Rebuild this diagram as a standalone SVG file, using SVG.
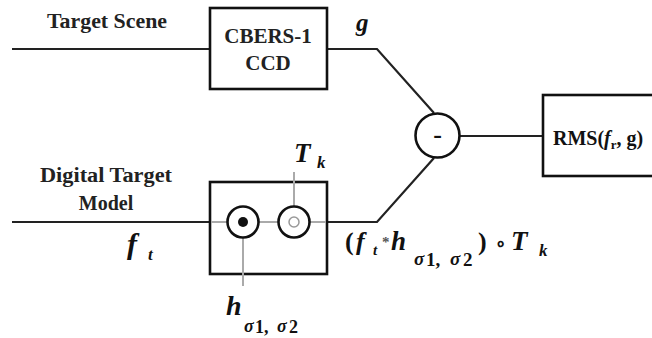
<svg xmlns="http://www.w3.org/2000/svg" width="652" height="338" viewBox="0 0 652 338">
<style>
.ln{fill:none;stroke:#222;stroke-width:2.2}
.gl{fill:none;stroke:#aaa;stroke-width:2}
.box{fill:#fff;stroke:#111;stroke-width:2.6}
</style>
<rect width="652" height="338" fill="#fff"/>
<g id="connectors">
<path class="ln" d="M12,49 H210 M327,49 H377 L434,113"/>
<path class="ln" d="M12,222 H210 M327,222 H377 L434,158"/>
<path class="ln" d="M460,136 H543"/>
</g>
<g id="target-scene">
<text font-family="Liberation Serif" font-weight="bold" fill="#222" x="47" y="28" font-size="20" textLength="120" lengthAdjust="spacingAndGlyphs">Target Scene</text>
</g>
<g id="ccd">
<rect class="box" x="210" y="8" width="117" height="81"/>
<text font-family="Liberation Serif" font-weight="bold" fill="#222" x="268" y="43" font-size="21" text-anchor="middle">CBERS-1</text>
<text font-family="Liberation Serif" font-weight="bold" fill="#222" x="268" y="70" font-size="21" text-anchor="middle">CCD</text>
</g>
<g id="g-label">
<text font-family="Liberation Serif" font-weight="bold" font-style="italic" fill="#111" x="356" y="31" font-size="25">g</text>
</g>
<g id="subtract">
<circle cx="437.5" cy="135.5" r="22" fill="#fff" stroke="#111" stroke-width="2.6"/>
<text font-family="Liberation Serif" font-weight="bold" fill="#111" x="437.5" y="143" font-size="26" text-anchor="middle">-</text>
</g>
<g id="rms">
<rect class="box" x="543" y="95" width="115" height="81"/>
<text font-family="Liberation Serif" font-weight="bold" fill="#111" x="553" y="145" font-size="20">RMS(<tspan font-style="italic">f</tspan><tspan font-size="13" dy="4">r</tspan><tspan dy="-4">, g)</tspan></text>
</g>
<g id="digital-target-model">
<text font-family="Liberation Serif" font-weight="bold" fill="#222" x="40" y="182" font-size="20" textLength="132" lengthAdjust="spacingAndGlyphs">Digital Target</text>
<text font-family="Liberation Serif" font-weight="bold" fill="#222" x="106" y="210" font-size="20" text-anchor="middle">Model</text>
<text font-family="Liberation Serif" font-weight="bold" font-style="italic" fill="#111" x="127" y="254" font-size="30">f<tspan font-size="17" x="148" y="260">t</tspan></text>
</g>
<g id="model-box">
<rect class="box" x="210" y="182" width="117" height="92"/>
<path class="gl" d="M211,222 H326 M294,172 V207 M243,238 V286"/>
<circle cx="243" cy="222" r="15.5" fill="#fff" stroke="#111" stroke-width="2.6"/>
<circle cx="243" cy="222" r="5" fill="#111"/>
<circle cx="294" cy="222" r="15.5" fill="#fff" stroke="#111" stroke-width="2.6"/>
<circle cx="294" cy="222" r="5" fill="#fff" stroke="#999" stroke-width="1.5"/>
</g>
<g id="tk-label">
<text font-family="Liberation Serif" font-weight="bold" font-style="italic" fill="#111" x="294" y="162" font-size="27">T<tspan font-size="17" x="317" y="168">k</tspan></text>
</g>
<g id="h-label">
<text font-family="Liberation Serif" font-weight="bold" font-style="italic" fill="#111" x="226" y="315" font-size="28">h<tspan font-size="18" x="244" y="332">σ</tspan><tspan font-size="18" font-style="normal" x="255" y="333">1,</tspan><tspan font-size="18" x="277" y="332">σ</tspan><tspan font-size="18" font-style="normal" x="289" y="333">2</tspan></text>
</g>
<g id="expr-label">
<text font-family="Liberation Serif" font-weight="bold" font-style="italic" fill="#111" font-size="26" y="250"><tspan font-style="normal" x="345">(</tspan><tspan x="356">f</tspan><tspan font-size="15" x="373" y="255">t</tspan><tspan font-style="normal" font-size="15" x="382" y="247" fill="#555">*</tspan><tspan x="391" y="250" font-size="27">h</tspan><tspan font-size="19" x="414" y="265">σ</tspan><tspan font-size="19" font-style="normal" x="426" y="266">1,</tspan><tspan font-size="19" x="450" y="265">σ</tspan><tspan font-size="19" font-style="normal" x="463" y="266">2</tspan><tspan font-style="normal" x="478" y="250">)</tspan><tspan font-style="normal" x="495" y="249" font-size="18">∘</tspan><tspan x="511" y="250" font-size="27">T</tspan><tspan font-size="17" x="539" y="256">k</tspan></text>
</g>
</svg>
